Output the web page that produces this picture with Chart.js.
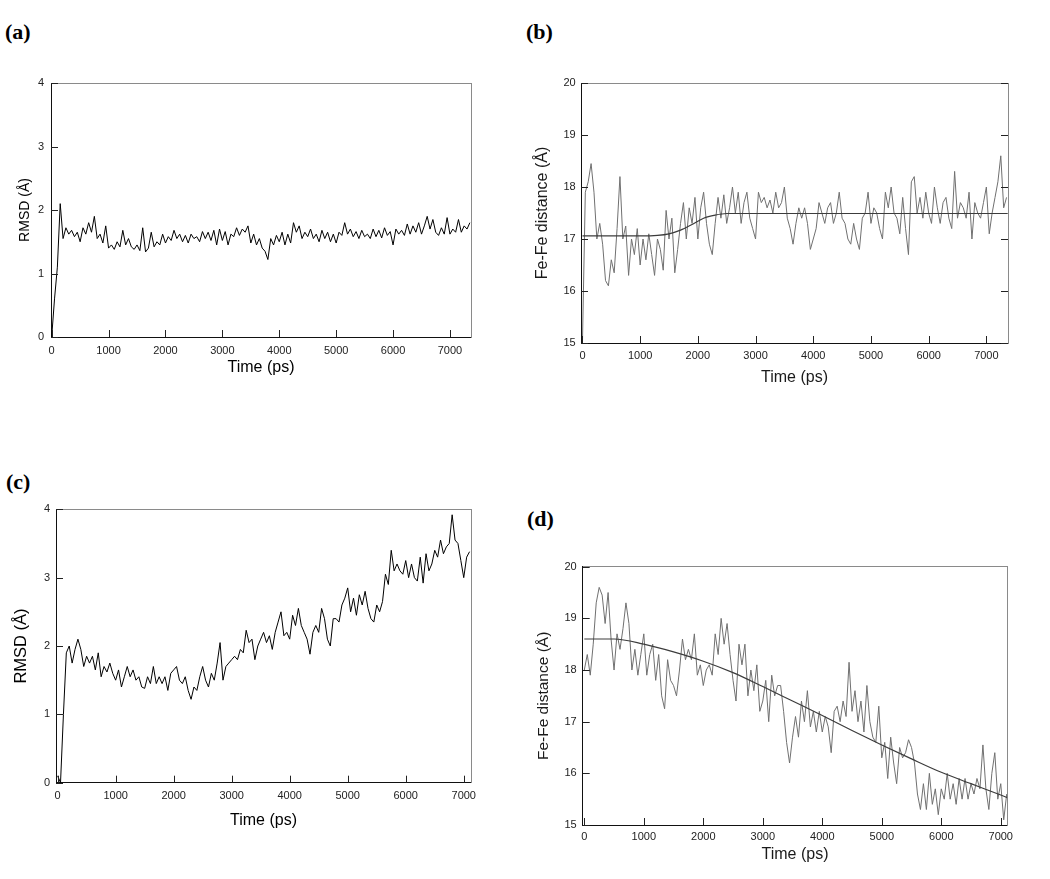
<!DOCTYPE html>
<html>
<head>
<meta charset="utf-8">
<script src="https://cdn.jsdelivr.net/npm/chart.js@4.4.1/dist/chart.umd.min.js"></script>
<style>
  body { margin: 0; background: #fff; }
  #page { position: relative; width: 1050px; height: 879px; overflow: hidden; }
  canvas { position: absolute; }
  .tag { position: absolute; font: bold 22px "Liberation Serif", "Times New Roman", serif; line-height: 22px; color: #000; }
</style>
</head>
<body>
<div id="page">
  <div class="tag" style="left:5px;top:21px">(a)</div>
  <div class="tag" style="left:526px;top:21px">(b)</div>
  <div class="tag" style="left:6px;top:471px">(c)</div>
  <div class="tag" style="left:527px;top:508px">(d)</div>
  <canvas id="ca" width="520" height="330" style="left:0;top:60px"></canvas>
  <canvas id="cb" width="530" height="330" style="left:520px;top:60px"></canvas>
  <canvas id="cc" width="520" height="380" style="left:0;top:470px"></canvas>
  <canvas id="cd" width="530" height="359" style="left:520px;top:520px"></canvas>
</div>
<script>
// sampling interval of the traces (ps)
const STEP = 50;

const X_TICKS = [0, 1000, 2000, 3000, 4000, 5000, 6000, 7000];
const RMSD_TICKS = [0, 1, 2, 3, 4];
const FEFE_TICKS = [15, 16, 17, 18, 19, 20];

// (a) RMSD, 0..7350 ps
const RMSD_A = [
  0.00, 0.60, 1.10, 2.10, 1.55, 1.72, 1.62, 1.68, 1.58, 1.65,
  1.50, 1.72, 1.62, 1.80, 1.65, 1.90, 1.55, 1.62, 1.48, 1.75,
  1.40, 1.45, 1.38, 1.50, 1.42, 1.68, 1.45, 1.55, 1.42, 1.38,
  1.45, 1.36, 1.72, 1.34, 1.40, 1.65, 1.42, 1.50, 1.45, 1.62,
  1.48, 1.58, 1.52, 1.68, 1.55, 1.62, 1.50, 1.60, 1.48, 1.62,
  1.55, 1.58, 1.50, 1.66, 1.55, 1.65, 1.52, 1.68, 1.45, 1.70,
  1.52, 1.66, 1.45, 1.62, 1.58, 1.72, 1.60, 1.70, 1.65, 1.75,
  1.48, 1.62, 1.45, 1.55, 1.40, 1.35, 1.22, 1.55, 1.45, 1.60,
  1.50, 1.65, 1.45, 1.62, 1.48, 1.80, 1.65, 1.75, 1.55, 1.65,
  1.58, 1.70, 1.55, 1.62, 1.50, 1.68, 1.55, 1.65, 1.50, 1.62,
  1.48, 1.65, 1.60, 1.80, 1.62, 1.70, 1.58, 1.66, 1.55, 1.68,
  1.58, 1.62, 1.55, 1.70, 1.58, 1.68, 1.56, 1.72, 1.60, 1.66,
  1.45, 1.70, 1.62, 1.68, 1.60, 1.78, 1.62, 1.75, 1.65, 1.80,
  1.62, 1.75, 1.90, 1.70, 1.85, 1.65, 1.60, 1.72, 1.62, 1.88,
  1.62, 1.70, 1.65, 1.85, 1.65, 1.75, 1.70, 1.80
];

// (b) Fe-Fe distance, 0..7350 ps
const FEFE_B = [
  15.0, 17.9, 18.1, 18.45, 17.9, 17.0, 17.3, 16.9, 16.2, 16.1,
  16.6, 16.35, 17.2, 18.2, 17.0, 17.25, 16.3, 17.0, 16.7, 17.2,
  16.5, 17.0, 16.6, 17.1, 16.7, 16.3, 17.0, 16.8, 16.4, 17.55,
  17.0, 17.4, 16.35, 16.8, 17.3, 17.7, 17.0, 17.6, 17.3, 17.8,
  17.0, 17.6, 17.9, 17.3, 16.9, 16.7, 17.3, 17.8, 17.4, 17.85,
  17.3, 17.6, 18.0, 17.5, 17.9, 17.3, 17.7, 17.9, 17.4, 17.2,
  17.0, 17.9, 17.7, 17.8, 17.6, 17.75, 17.5, 17.9, 17.6, 17.7,
  18.0, 17.4, 17.2, 16.9, 17.3, 17.6, 17.4, 17.6, 17.3, 16.8,
  17.0, 17.2, 17.7, 17.5, 17.3, 17.6, 17.7, 17.3, 17.5, 17.9,
  17.4, 17.3, 17.0, 16.9, 17.3, 17.0, 16.8, 17.4, 17.5, 17.9,
  17.3, 17.6, 17.5, 17.2, 17.0, 17.9, 17.6, 18.0, 17.5, 17.4,
  17.1, 17.8, 17.2, 16.7, 18.1, 18.2, 17.5, 17.8, 17.4, 17.9,
  17.5, 17.3, 18.0, 17.6, 17.3, 17.7, 17.8, 17.4, 17.2, 18.3,
  17.4, 17.7, 17.6, 17.4, 17.9, 17.0, 17.7, 17.5, 17.4, 17.7,
  18.0, 17.1, 17.5, 17.8, 18.1, 18.6, 17.6, 17.8
];
const FIT_B_T = [0, 1000, 1300, 1500, 1700, 1900, 2100, 2300, 2500, 7370];
const FIT_B = [17.06, 17.06, 17.07, 17.10, 17.17, 17.28, 17.40, 17.46, 17.49, 17.49];

// (c) RMSD, 0..7100 ps
const RMSD_C = [
  0.10, 0.00, 1.00, 1.90, 2.00, 1.75, 1.95, 2.10, 1.95, 1.70,
  1.85, 1.75, 1.85, 1.65, 1.90, 1.55, 1.70, 1.62, 1.75, 1.60,
  1.50, 1.65, 1.40, 1.55, 1.70, 1.55, 1.65, 1.50, 1.55, 1.40,
  1.38, 1.55, 1.45, 1.70, 1.45, 1.55, 1.45, 1.55, 1.35, 1.60,
  1.65, 1.70, 1.50, 1.45, 1.55, 1.35, 1.22, 1.40, 1.35, 1.55,
  1.70, 1.50, 1.40, 1.60, 1.50, 1.75, 2.05, 1.50, 1.70, 1.75,
  1.80, 1.85, 1.80, 1.95, 1.90, 2.23, 2.05, 2.10, 1.80, 2.00,
  2.10, 2.20, 2.05, 2.15, 1.95, 2.20, 2.35, 2.50, 2.15, 2.20,
  2.10, 2.45, 2.30, 2.55, 2.30, 2.20, 2.10, 1.88, 2.20, 2.30,
  2.20, 2.55, 2.40, 2.10, 2.00, 2.40, 2.40, 2.35, 2.60, 2.70,
  2.85, 2.50, 2.70, 2.45, 2.75, 2.60, 2.80, 2.55, 2.40, 2.35,
  2.60, 2.50, 2.65, 3.05, 2.90, 3.40, 3.10, 3.20, 3.10, 3.05,
  3.25, 3.00, 3.20, 3.00, 2.95, 3.30, 2.92, 3.35, 3.10, 3.20,
  3.40, 3.30, 3.55, 3.35, 3.45, 3.50, 3.92, 3.55, 3.50, 3.25,
  3.00, 3.30, 3.38
];

// (d) Fe-Fe distance, 0..7100 ps
const FEFE_D = [
  18.0, 18.3, 17.9, 18.5, 19.3, 19.6, 19.45, 18.9, 19.5, 18.6,
  18.0, 18.7, 18.4, 18.8, 19.3, 18.9, 18.0, 18.4, 17.9, 18.3,
  18.7, 17.9, 18.3, 18.5, 17.8, 18.3, 17.5, 17.25, 18.2, 17.8,
  17.7, 17.5, 18.0, 18.6, 18.2, 18.4, 18.2, 18.7, 17.9, 18.1,
  17.7, 18.0, 18.1, 17.9, 18.7, 18.3, 19.0, 18.5, 18.9, 18.3,
  17.8, 17.4, 18.5, 18.1, 18.5, 17.5, 18.0, 17.6, 18.1, 17.2,
  17.4, 17.8, 17.0, 17.9, 17.5, 17.7, 17.7, 17.2, 16.6, 16.2,
  16.7, 17.1, 16.7, 17.4, 17.0, 17.6, 16.9, 17.2, 16.8, 17.2,
  16.8, 17.1, 16.9, 16.4, 17.2, 17.3, 17.0, 17.4, 17.1, 18.15,
  17.2, 17.6, 17.0, 17.4, 16.8, 17.7, 17.0, 16.7, 16.6, 17.3,
  16.3, 16.6, 15.9, 16.7, 16.2, 15.8, 16.5, 16.3, 16.4, 16.65,
  16.5, 16.2, 15.6, 15.3, 15.8, 15.3, 16.0, 15.4, 15.7, 15.2,
  15.7, 15.5, 16.0, 15.5, 15.8, 15.4, 15.9, 15.5, 15.9, 15.5,
  15.8, 15.6, 15.9, 15.7, 16.55, 15.7, 15.3, 16.0, 16.4, 15.5,
  15.8, 15.1, 15.6
];
const FIT_D_T = [0, 500, 1000, 1500, 2000, 2500, 3000, 3500, 4000, 4500, 5000, 5500, 6000, 6500, 7000, 7110];
const FIT_D = [18.6, 18.6, 18.5, 18.35, 18.17, 17.95, 17.68, 17.4, 17.12, 16.83, 16.55, 16.28, 16.02, 15.8, 15.58, 15.53];

const FONT = '"Liberation Sans", Arial, sans-serif';
const TICK_LEN = 7;

function series(vals) {
  return vals.map((v, i) => ({ x: i * STEP, y: v }));
}
function pairs(ts, vals) {
  return ts.map((t, i) => ({ x: t, y: vals[i] }));
}
function fixTicks(list) {
  return scale => { scale.ticks = list.map(v => ({ value: v })); };
}

// tick marks drawn inward from the frame, at the scales' own tick positions
const innerTicks = {
  id: 'innerTicks',
  afterDraw(chart, args, opts) {
    const { ctx, chartArea: a, scales } = chart;
    ctx.save();
    ctx.strokeStyle = '#222';
    ctx.lineWidth = 1;
    ctx.beginPath();
    scales.x.ticks.forEach(t => {
      const px = Math.round(scales.x.getPixelForValue(t.value)) + 0.5;
      ctx.moveTo(px, a.bottom);
      ctx.lineTo(px, a.bottom - TICK_LEN);
    });
    scales.y.ticks.forEach(t => {
      const py = Math.round(scales.y.getPixelForValue(t.value)) + 0.5;
      ctx.moveTo(a.left, py);
      ctx.lineTo(a.left + TICK_LEN, py);
      if (opts.right) {
        ctx.moveTo(a.right, py);
        ctx.lineTo(a.right - TICK_LEN, py);
      }
    });
    ctx.stroke();
    ctx.restore();
  }
};

function makePanel(p) {
  const datasets = [];
  if (p.fit) {
    datasets.push({
      data: p.fit, borderColor: '#3c3c3c', borderWidth: 1.2,
      pointRadius: 0, cubicInterpolationMode: 'monotone'
    });
  }
  datasets.push({
    data: p.data, borderColor: p.color, borderWidth: 1,
    pointRadius: 0, tension: 0
  });

  new Chart(document.getElementById(p.id), {
    type: 'line',
    data: { datasets },
    plugins: [innerTicks],
    options: {
      responsive: false,
      animation: false,
      devicePixelRatio: 1,
      layout: { padding: p.pad },
      plugins: {
        legend: { display: false },
        tooltip: { enabled: false },
        innerTicks: { right: p.rightTicks }
      },
      scales: {
        x: {
          type: 'linear', position: 'bottom', min: p.xMin, max: p.xMax,
          afterBuildTicks: fixTicks(X_TICKS),
          afterFit: s => { s.height = p.xH; },
          ticks: {
            padding: p.xTickPad, maxRotation: 0, color: '#222',
            font: { family: FONT, size: 11 },
            callback: v => String(v)
          },
          grid: { drawOnChartArea: false, drawTicks: false },
          border: { color: '#111', width: 1 },
          title: { display: true, text: 'Time (ps)', padding: 0, color: p.titleColor, font: { family: FONT, size: 16 } }
        },
        xTop: {
          type: 'linear', position: 'top', min: p.xMin, max: p.xMax,
          afterFit: s => { s.height = 0; },
          ticks: { display: false },
          grid: { drawOnChartArea: false, drawTicks: false },
          border: { color: '#8a8a8a', width: 1 }
        },
        y: {
          type: 'linear', position: 'left', min: p.yMin, max: p.yMax,
          afterBuildTicks: fixTicks(p.yTicks),
          afterFit: s => { s.width = p.yW; },
          ticks: {
            padding: p.yTickPad, color: '#222',
            font: { family: FONT, size: 11 },
            callback: v => String(v)
          },
          grid: { drawOnChartArea: false, drawTicks: false },
          border: { color: '#111', width: 1 },
          title: { display: true, text: p.yTitle, padding: 0, color: p.titleColor, font: { family: FONT, size: p.yTitleSize } }
        },
        yRight: {
          type: 'linear', position: 'right', min: p.yMin, max: p.yMax,
          afterFit: s => { s.width = 0; },
          ticks: { display: false },
          grid: { drawOnChartArea: false, drawTicks: false },
          border: { color: '#8a8a8a', width: 1 }
        }
      }
    }
  });
}

makePanel({
  id: 'ca', data: series(RMSD_A), color: '#000', titleColor: '#000',
  xMin: -12, xMax: 7370, yMin: 0, yMax: 4, yTicks: RMSD_TICKS,
  yTitle: 'RMSD (Å)', yTitleSize: 14,
  pad: { left: 16.6, top: 23, right: 49, bottom: 12.4 },
  yW: 34.4, xH: 40.6, xTickPad: 7.1, yTickPad: 7, rightTicks: false
});
makePanel({
  id: 'cb', data: series(FEFE_B), fit: pairs(FIT_B_T, FIT_B), color: '#707070', titleColor: '#1a1a1a',
  xMin: -25, xMax: 7375, yMin: 15, yMax: 20, yTicks: FEFE_TICKS,
  yTitle: 'Fe-Fe distance (Å)', yTitleSize: 16,
  pad: { left: 13.4, top: 23, right: 42, bottom: 2.4 },
  yW: 47.6, xH: 44.6, xTickPad: 6.1, yTickPad: 5.3, rightTicks: true
});
makePanel({
  id: 'cc', data: series(RMSD_C), color: '#000', titleColor: '#000',
  xMin: -28, xMax: 7125, yMin: 0, yMax: 4, yTicks: RMSD_TICKS,
  yTitle: 'RMSD (Å)', yTitleSize: 16.5,
  pad: { left: 11.8, top: 39.3, right: 49, bottom: 19.7 },
  yW: 44.2, xH: 47.6, xTickPad: 6.7, yTickPad: 6, rightTicks: false
});
makePanel({
  id: 'cd', data: series(FEFE_D), fit: pairs(FIT_D_T, FIT_D), color: '#707070', titleColor: '#1a1a1a',
  xMin: -27, xMax: 7110, yMin: 15, yMax: 20, yTicks: FEFE_TICKS,
  yTitle: 'Fe-Fe distance (Å)', yTitleSize: 15.5,
  pad: { left: 14.7, top: 46.7, right: 42.7, bottom: 14.4 },
  yW: 48, xH: 39.6, xTickPad: 5.1, yTickPad: 6, rightTicks: false
});
</script>
</body>
</html>
